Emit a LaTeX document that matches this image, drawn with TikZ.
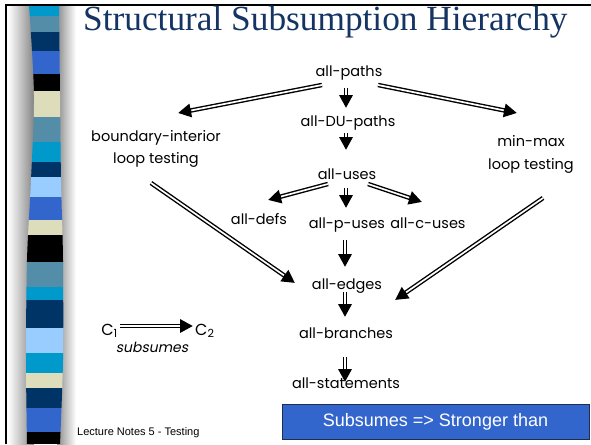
\documentclass[tikz,border=0pt]{standalone}
\usepackage{fontspec}
\setmainfont{Liberation Serif}
\newfontfamily\gothic[AutoFakeSlant=0.2]{Poppins}
\newfontfamily\arial{Liberation Sans}
\usetikzlibrary{arrows.meta,calc}

% stripe palette of the side band
\definecolor{scyan}{RGB}{0,153,204}
\definecolor{ssteel}{RGB}{84,141,168}
\definecolor{snavy}{RGB}{0,51,102}
\definecolor{sroyal}{RGB}{51,102,204}
\definecolor{sbeige}{RGB}{221,221,187}
\definecolor{slight}{RGB}{153,204,255}
\definecolor{titleblue}{RGB}{20,52,100}
\definecolor{boxblue}{RGB}{51,102,204}
\definecolor{boxedge}{RGB}{30,45,80}

\begin{document}
\begin{tikzpicture}[x=1pt,y=-1pt,
  lbl/.style={font=\gothic\fontsize{14.5}{22.5}\selectfont, inner sep=0pt, anchor=base},
  subs/.style={draw=black, line width=4.5pt,
    -{Triangle[length=13pt,width=13pt]},
    postaction={draw=white, line width=1.7pt, -, shorten >=13.5pt}}]

\useasboundingbox (0,0) rectangle (591,444);
\fill[white] (0,0) rectangle (591,444);

% soft shadows on both sides of the band
\shade[left color=white, right color=black!48] (8,5) rectangle (34,444);
\shade[left color=black!45, right color=white] (57,5) rectangle (76,444);

% wavy striped band
\begin{scope}
  \clip plot[smooth] coordinates {(29,5) (34,95) (31,180) (27,260) (26,360) (27,444)}
    -- plot[smooth] coordinates {(60,444) (63,360) (63,260) (61,180) (60,95) (59,5)} -- cycle;
  \foreach \ya/\yb/\col in {5/16/scyan, 16/32/ssteel, 32/51/snavy, 51/74/sroyal,
      74/91/black, 91/117/sbeige, 117/142/ssteel, 142/162/scyan, 162/177/snavy,
      177/197/slight, 197/220/sroyal, 220/235/sbeige, 235/262/black, 262/287/ssteel,
      287/300/scyan, 300/328/snavy, 328/353/slight, 353/373/scyan, 373/388/sbeige,
      388/408/snavy, 408/432/sroyal, 432/444/black}
    \fill[\col] (20,\ya) rectangle (70,\yb+0.4);
\end{scope}

% slide frame
\draw[line width=2.4pt] (6.2,444) -- (6.2,5.3) -- (591,5.3);

% title
\node[anchor=base west, inner sep=0pt, text=titleblue,
      font=\fontsize{35.3}{38}\selectfont] (title) at (83,30.5) {Structural Subsumption Hierarchy};

% criteria (two-line labels are anchored on their last baseline)
\node[lbl] (ap)   at (349,76)    {all-paths};
\node[lbl] (du)   at (348,126)   {all-DU-paths};
\node[lbl, align=center] (bi) at (156,163.5) {boundary-interior\\loop testing};
\node[lbl, align=center] (mm) at (531,169) {min-max\\loop testing};
\node[lbl] (uses) at (347,179)   {all-uses};
\node[lbl] (defs) at (259,224)   {all-defs};
\node[lbl] (pu)   at (347,228)   {all-p-uses};
\node[lbl] (cu)   at (428,228)   {all-c-uses};
\node[lbl] (ed)   at (347,289)   {all-edges};
\node[lbl] (br)   at (346,338)   {all-branches};
\node[lbl] (st)   at (346,388)   {all-statements};

% subsumption edges
\draw[subs] ($(ap.base)+(-27,9)$)   -- ($(bi.base)+(22,-50.5)$);
\draw[subs] ($(ap.base)+(29,9)$)    -- ($(mm.base)+(-14,-56)$);
\draw[subs] ($(ap.base)+(-3,12)$)   -- ($(du.base)+(-2,-18)$);
\draw[subs] ($(du.base)+(-2,7)$)    -- ($(uses.base)+(-1,-29)$);
\draw[subs] ($(uses.base)+(-19,5)$) -- ($(defs.base)+(9,-24)$);
\draw[subs] ($(uses.base)+(-1,9)$)  -- ($(pu.base)+(-1,-20)$);
\draw[subs] ($(uses.base)+(21,5)$)  -- ($(cu.base)+(-6,-26)$);
\draw[subs] ($(pu.base)+(-2,12)$)   -- ($(ed.base)+(-2,-22)$);
\draw[subs] ($(bi.base)+(-5,19.5)$) -- ($(ed.base)+(-52,-6)$);
\draw[subs] ($(mm.base)+(12,29)$)   -- ($(ed.base)+(48,11)$);
\draw[subs] ($(ed.base)+(-2,3)$)    -- ($(br.base)+(-1,-21)$);
\draw[subs] ($(br.base)+(-1,19)$)   -- ($(st.base)+(-1,-6)$);

% legend
\node[lbl, anchor=base east, font=\gothic\fontsize{16}{18}\selectfont] (c1) at (118,335) {C\textsubscript{1}};
\node[lbl, anchor=base west, font=\gothic\fontsize{16}{18}\selectfont] (c2) at (195,335) {C\textsubscript{2}};
\node[lbl, font=\gothic\itshape\fontsize{14}{16}\selectfont] (sub) at (152,352) {subsumes};
\draw[subs] ($(c1.base east)+(2,-9)$) -- ($(c2.base west)+(-2,-9)$);

% footer and note box
\node[anchor=base west, inner sep=0pt, font=\arial\fontsize{11}{13}\selectfont]
  (foot) at (77,435) {Lecture Notes 5 - Testing};
\node[draw=boxedge, fill=boxblue, line width=0.8pt, minimum width=307pt,
      minimum height=35pt, inner sep=0pt, text=white,
      font=\arial\fontsize{18}{20}\selectfont] (note) at (435.5,421.5) {Subsumes => Stronger than};
\end{tikzpicture}
\end{document}
